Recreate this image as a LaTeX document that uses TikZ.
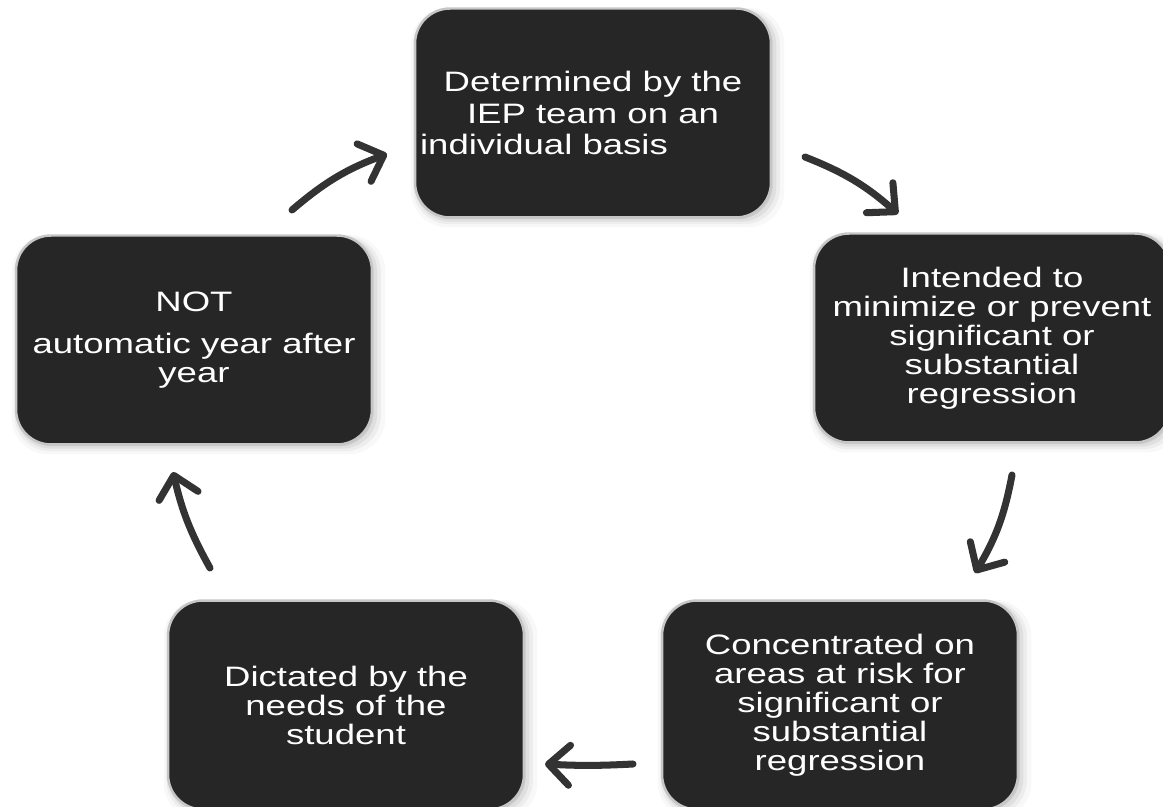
\documentclass[tikz,border=0pt]{standalone}
\usepackage{fontspec}
\setmainfont{Liberation Sans}[FakeStretch=1.3]
\usetikzlibrary{arrows.meta,shadows}
\definecolor{boxfill}{HTML}{262626}
\definecolor{arrowgray}{HTML}{333333}
\begin{document}
\begin{tikzpicture}[x = 0.02cm, y = 0.02cm,
                    cbox/.style = {shape = rectangle,
                                   rounded corners = 0.7cm,
                                   fill = boxfill,
                                   draw = gray!45,
                                   line width = 1.4pt,
                                   minimum width = 7.12cm,
                                   minimum height = 4.18cm,
                                   inner sep = 0pt,
                                   text = white,
                                   align = center,
                                   font = \fontsize{16}{16.5}\selectfont,
                                   drop shadow = {shadow xshift = 2.5pt, shadow yshift = -2.5pt, shadow scale = 1.05, opacity = 0.06},
                                   drop shadow = {shadow xshift = 2pt, shadow yshift = -2pt, shadow scale = 1.03, opacity = 0.09},
                                   drop shadow = {shadow xshift = 1.5pt, shadow yshift = -1.5pt, shadow scale = 1.015, opacity = 0.13},
                                   drop shadow = {shadow xshift = 1pt, shadow yshift = -1pt, opacity = 0.2}},
                    carrow/.style = {draw = arrowgray,
                                     line width = 4pt,
                                     line cap = round,
                                     -{Straight Barb[length = 0.42cm, width = 0.8cm, round]}}]
		\useasboundingbox (0,0) rectangle (1163,-807);
		% the five boxes of the cycle
		\node[cbox, font = \fontsize{16}{18}\selectfont] (team) at (593,-113)
			{Determined by the\\IEP team on an\\individual basis\hspace*{1.96cm}};
		\node[cbox] (intend) at (992,-338)  {Intended to\\minimize or prevent\\significant or\\substantial\\regression};
		\node[cbox] (areas)  at (840,-705)  {Concentrated on\\areas at risk for\\significant or\\substantial\\regression};
		\node[cbox] (needs)  at (346,-705)  {Dictated by the\\needs of the\\student};
		\node[cbox] (auto)   at (194,-340)  {NOT\\[7pt]automatic year after\\year};
		% arrow ends
		\coordinate (a1s) at (292,-210);  \coordinate (a1e) at (387,-154);
		\coordinate (a2s) at (805,-157);  \coordinate (a2e) at (898,-214);
		\coordinate (a3s) at (1012,-475); \coordinate (a3e) at (975,-573);
		\coordinate (a4s) at (633,-764);  \coordinate (a4e) at (545,-764);
		\coordinate (a5s) at (210,-568);  \coordinate (a5e) at (173,-472);
		\draw[carrow] (a1s) to[bend left=10] (a1e);
		\draw[carrow] (a2s) to[bend left=10] (a2e);
		\draw[carrow] (a3s) to[bend left=10] (a3e);
		\draw[carrow] (a4s) to[bend left=3]  (a4e);
		\draw[carrow] (a5s) to[bend left=8]  (a5e);
	\end{tikzpicture}
\end{document}
